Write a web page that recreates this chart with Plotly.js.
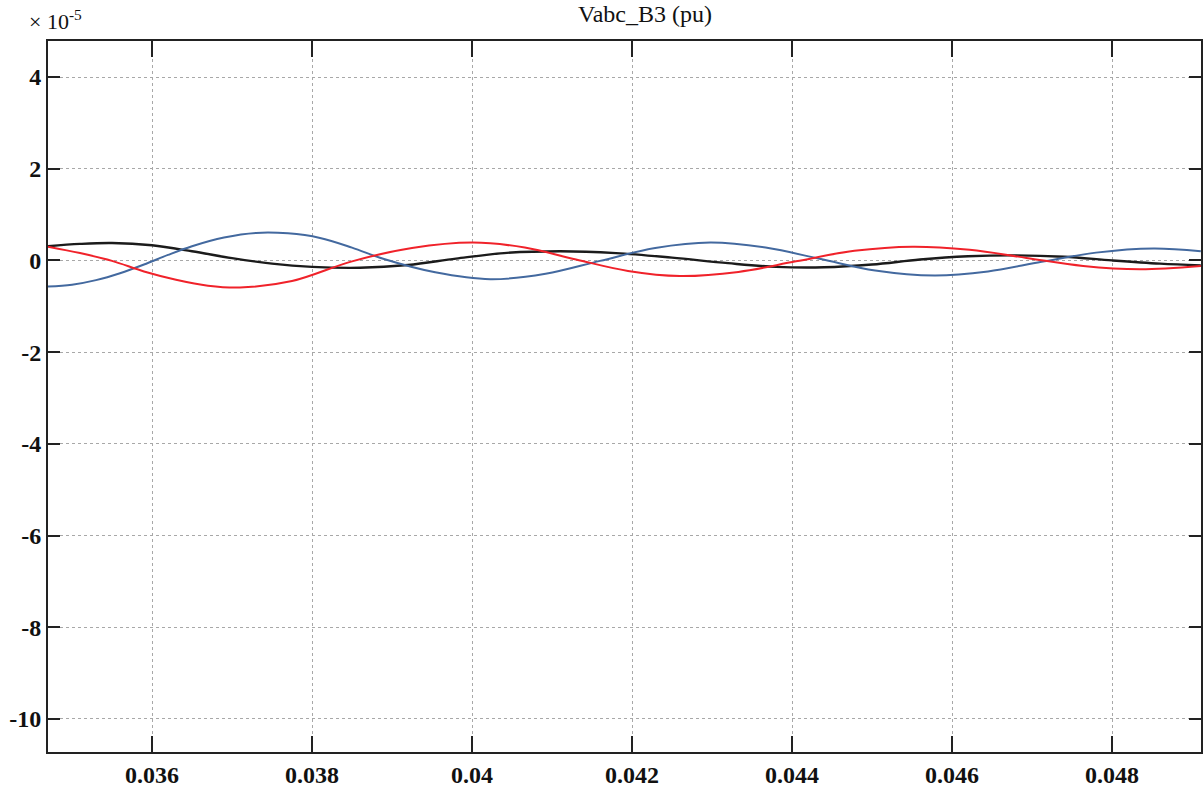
<!DOCTYPE html>
<html>
<head>
<meta charset="utf-8">
<script src="https://cdn.plot.ly/plotly-3.0.1.min.js"></script>
<style>html,body{margin:0;padding:0;background:#fff;}#chart{width:1203px;height:787px;}</style>
</head>
<body>
<div id="chart"></div>
<script>
// values in units of 1e-5 pu
const blueT = [0.0347,0.0350,0.0353,0.0356,0.0359,0.0362,0.0365,0.0369,0.0373,0.0377,0.0381,0.0385,0.0389,0.03954,0.04023,0.04092,0.0416,0.04229,0.04298,0.04367,0.04436,0.04504,0.04578,0.04645,0.04712,0.0478,0.04852,0.04911];
const blueV = [-0.57,-0.53,-0.43,-0.28,-0.09,0.12,0.31,0.50,0.60,0.59,0.49,0.28,0.03,-0.26,-0.41,-0.29,-0.01,0.27,0.39,0.28,0.03,-0.22,-0.33,-0.24,-0.03,0.17,0.26,0.20];

const redT = [0.0347,0.0351,0.0355,0.0359,0.0363,0.0367,0.0371,0.03775,0.0385,0.03925,0.04001,0.04066,0.0413,0.04195,0.0426,0.04333,0.04405,0.04478,0.04551,0.04622,0.04693,0.04764,0.04835,0.04911];
const redV = [0.30,0.16,-0.01,-0.24,-0.42,-0.55,-0.59,-0.45,-0.02,0.27,0.39,0.28,0.02,-0.23,-0.34,-0.25,-0.02,0.21,0.30,0.23,0.055,-0.12,-0.19,-0.12];

const blackT = [0.0347,0.0351,0.0355,0.0360,0.0365,0.0370,0.0375,0.0380,0.0386,0.0392,0.0398,0.0404,0.0411,0.0418,0.0425,0.0432,0.0438,0.0444,0.0450,0.0456,0.0462,0.0468,0.0474,0.0480,0.0486,0.04911];
const blackV = [0.31,0.36,0.38,0.33,0.20,0.05,-0.07,-0.14,-0.16,-0.10,0.04,0.16,0.20,0.16,0.06,-0.06,-0.14,-0.15,-0.09,0.02,0.09,0.11,0.08,0.0,-0.07,-0.11];

const xTicks = [0.036,0.038,0.04,0.042,0.044,0.046,0.048];
const xTickText = ['0.036','0.038','0.04','0.042','0.044','0.046','0.048'];
const yTicks = [4,2,0,-2,-4,-6,-8,-10];
const yTickText = ['4','2','0','-2','-4','-6','-8','-10'];

const FONT = 'Liberation Serif, Times New Roman, serif';

const mk = (x, y, c, w) => ({x, y, type:'scatter', mode:'lines', line:{color:c, width:w, shape:'spline', smoothing:1}, hoverinfo:'skip'});

const data = [
  mk(blackT, blackV, '#1b1b1b', 2.4),
  mk(blueT, blueV, '#43699f', 2),
  mk(redT, redV, '#f0222a', 2)
];

const tickFont = {family:FONT, size:24, color:'#111', weight:'bold'};

const layout = {
  width:1203, height:787,
  margin:{l:48, r:2, t:41, b:35, pad:0},
  paper_bgcolor:'#fff', plot_bgcolor:'#fff',
  showlegend:false,
  font:{family:FONT, color:'#000', size:22},
  xaxis:{
    range:[0.0347, 0.0491125],
    tickvals:xTicks, ticktext:xTickText,
    ticks:'inside', ticklen:16, tickwidth:2, tickcolor:'#222',
    showline:true, linecolor:'#222', linewidth:2, mirror:'ticks',
    showgrid:true, gridcolor:'#a8a8a8', griddash:'dot', gridwidth:1,
    zeroline:false, tickfont:tickFont,
    ticklabelstandoff:0
  },
  yaxis:{
    range:[-10.72, 4.785],
    tickvals:yTicks, ticktext:yTickText,
    ticks:'inside', ticklen:12, tickwidth:2, tickcolor:'#222',
    showline:true, linecolor:'#222', linewidth:2, mirror:'ticks',
    showgrid:true, gridcolor:'#a8a8a8', griddash:'dot', gridwidth:1,
    zeroline:false, tickfont:tickFont,
    ticklabelstandoff:0
  },
  annotations:[
    {text:'Vabc_B3 (pu)', xref:'paper', yref:'paper', x:0.518, y:1, yshift:27, xanchor:'center', yanchor:'middle', showarrow:false, font:{family:FONT, size:24, color:'#111'}},
    {text:'× 10<sup>-5</sup>', xref:'paper', yref:'paper', x:-0.018, y:1, yshift:21, xanchor:'left', yanchor:'middle', showarrow:false, font:{family:FONT, size:22, color:'#111'}}
  ]
};

Plotly.newPlot('chart', data, layout, {displayModeBar:false, staticPlot:true});
</script>
</body>
</html>
